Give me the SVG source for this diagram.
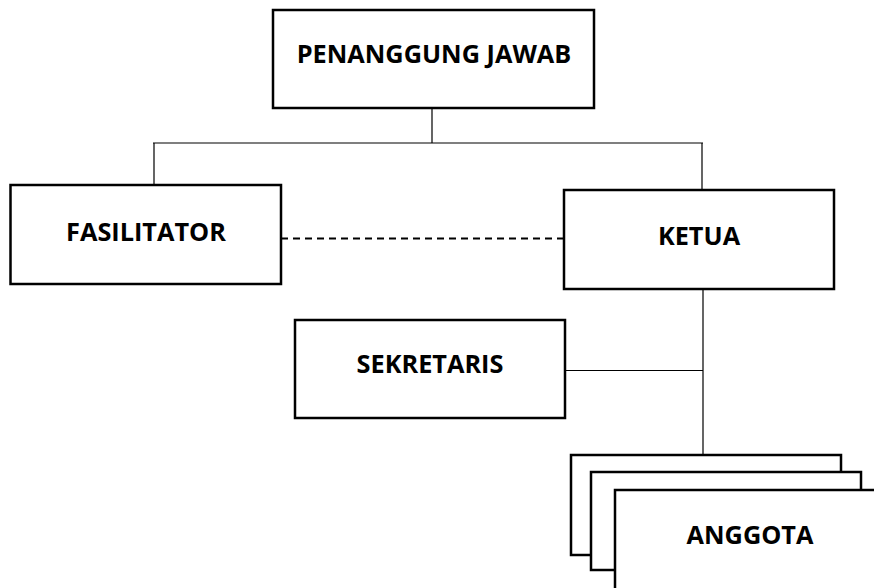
<svg xmlns="http://www.w3.org/2000/svg" width="874" height="588" viewBox="0 0 874 588">
<style>
.box{fill:#fff;stroke:#000;stroke-width:2.5}
.lbl{font-family:"Open Sans","Liberation Sans",sans-serif;font-weight:700;font-size:25.3px;fill:#000;text-anchor:middle}
.ln{stroke:#000;stroke-width:1.2;fill:none}
.dash{stroke:#000;stroke-width:2;fill:none;stroke-dasharray:7 5}
</style>
<rect width="874" height="588" fill="#fff"/>
<g id="connectors">
<path class="ln" d="M432 108V143M153 143H703M154 143V185M702 143V190M703 289V455M565 370.5H703"/>
<path class="dash" d="M281 238.5H564"/>
</g>
<g id="penanggung-jawab">
<rect class="box" x="273" y="10" width="321" height="98"/>
<text class="lbl" x="434" y="63">PENANGGUNG JAWAB</text>
</g>
<g id="fasilitator">
<rect class="box" x="10.5" y="185" width="270.5" height="99"/>
<text class="lbl" x="146" y="240.5">FASILITATOR</text>
</g>
<g id="ketua">
<rect class="box" x="564" y="190" width="270" height="99"/>
<text class="lbl" x="699" y="245">KETUA</text>
</g>
<g id="sekretaris">
<rect class="box" x="295" y="320" width="270" height="98"/>
<text class="lbl" x="430" y="373">SEKRETARIS</text>
</g>
<g id="anggota">
<rect class="box" x="571" y="455" width="270" height="100"/>
<rect class="box" x="591" y="472" width="270" height="98"/>
<rect class="box" x="615" y="490" width="270" height="100"/>
<text class="lbl" x="750" y="544">ANGGOTA</text>
</g>
</svg>
